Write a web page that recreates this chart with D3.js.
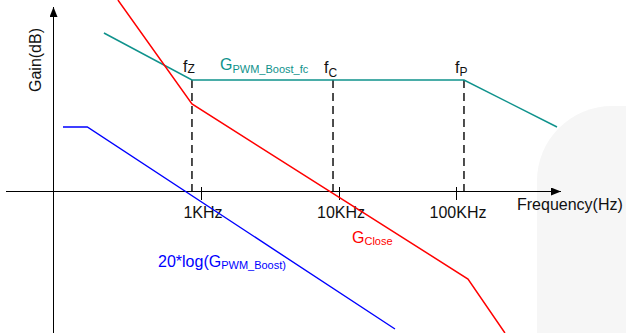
<!DOCTYPE html>
<html>
<head>
<meta charset="utf-8">
<script src="https://cdn.jsdelivr.net/npm/d3@7"></script>
<style>
  body { margin: 0; background: #fff; }
  svg { display: block; font-family: "Liberation Sans", Arial, sans-serif; }
</style>
</head>
<body>
<div id="chart"></div>
<script>
var width = 626, height = 333;

// corner frequencies (Hz) and tick labels
var fz = 860, fc = 9050, fp = 117000;
var tickFreqs = [1e3, 1e4, 1e5];
var tickLabels = ["1KHz", "10KHz", "100KHz"];

// asymptotic curves: [frequency Hz, gain dB]
var gPwmFc = [[198, 79], [860, 55.5], [117000, 55.5], [730000, 32]];
var gClose = [[250, 95.5], [860, 43.5], [126600, -44], [262000, -71]];
var gPwm = [[100, 32], [150, 32], [30100, -69]];

// schematic axis: decades are not evenly spaced in the drawing
var x = d3.scaleLog()
  .domain(tickFreqs)
  .range([201, 339, 456]);

var y = d3.scaleLinear()
  .domain([-71, 95.5])
  .range([height, 0]);

var svg = d3.select("#chart")
  .append("svg")
  .attr("width", width)
  .attr("height", height);

var defs = svg.append("defs");
defs.append("marker")
  .attr("id", "arrow")
  .attr("viewBox", "0 0 10 8")
  .attr("refX", 10)
  .attr("refY", 4)
  .attr("markerWidth", 11)
  .attr("markerHeight", 8)
  .attr("markerUnits", "userSpaceOnUse")
  .attr("orient", "auto")
  .append("path")
  .attr("d", "M0,0L10,4L0,8Z")
  .attr("fill", "#000");

// faint background shape on the right
svg.append("rect")
  .attr("x", 537)
  .attr("y", 106)
  .attr("width", 200)
  .attr("height", 300)
  .attr("rx", 75)
  .attr("fill", "#f6f6f6");

var y0 = y(0);

// axes
svg.append("line")
  .attr("x1", 6).attr("x2", 561)
  .attr("y1", y0 + 0.5).attr("y2", y0 + 0.5)
  .attr("stroke", "#000")
  .attr("marker-end", "url(#arrow)");

svg.append("line")
  .attr("x1", 53.5).attr("x2", 53.5)
  .attr("y1", height).attr("y2", 7)
  .attr("stroke", "#000")
  .attr("marker-end", "url(#arrow)");

var xAxis = d3.axisBottom(x)
  .tickValues(tickFreqs)
  .tickFormat(function(d, i) { return tickLabels[i]; })
  .tickSize(9);

var gx = svg.append("g")
  .attr("transform", "translate(0," + y0 + ")")
  .call(xAxis);
gx.select(".domain").remove();
gx.selectAll(".tick line").attr("y1", -4).attr("stroke", "#000");
gx.selectAll(".tick text")
  .attr("y", 27)
  .attr("dy", 0)
  .attr("x", 1.5)
  .attr("font-family", "Liberation Sans, Arial, sans-serif")
  .attr("font-size", 16)
  .attr("fill", "#111");

svg.append("text")
  .attr("x", 517)
  .attr("y", 210)
  .attr("font-size", 16)
  .attr("fill", "#111")
  .text("Frequency(Hz)");

svg.append("text")
  .attr("transform", "translate(41,60) rotate(-90)")
  .attr("text-anchor", "middle")
  .attr("font-size", 16)
  .attr("fill", "#111")
  .text("Gain(dB)");

// dashed markers at fz, fc, fp
var marks = [
  { f: fz, name: "Z", sub: 1 },
  { f: fc, name: "C", sub: 4 },
  { f: fp, name: "P", sub: 3 }
];

svg.selectAll(".fmark")
  .data(marks)
  .join("line")
  .attr("class", "fmark")
  .attr("x1", function(d) { return x(d.f); })
  .attr("x2", function(d) { return x(d.f); })
  .attr("y1", y(55.5))
  .attr("y2", y0)
  .attr("stroke", "#222")
  .attr("stroke-width", 1.6)
  .attr("stroke-dasharray", "8,5");

var fl = svg.selectAll(".flabel")
  .data(marks)
  .join("text")
  .attr("class", "flabel")
  .attr("x", function(d) { return x(d.f) - 9; })
  .attr("y", function(d, i) { return i === 0 ? 72 : 73; })
  .attr("fill", "#111")
  .attr("font-size", 16);
fl.append("tspan").text("f");
fl.append("tspan")
  .attr("font-size", 12)
  .attr("dy", function(d) { return d.sub; })
  .text(function(d) { return d.name; });

// curves
var line = d3.line()
  .x(function(d) { return x(d[0]); })
  .y(function(d) { return y(d[1]); });

svg.append("path")
  .datum(gPwm)
  .attr("d", line)
  .attr("fill", "none")
  .attr("stroke", "#0000ff")
  .attr("stroke-width", 1.4);

svg.append("path")
  .datum(gPwmFc)
  .attr("d", line)
  .attr("fill", "none")
  .attr("stroke", "#0f928c")
  .attr("stroke-width", 1.5);

svg.append("path")
  .datum(gClose)
  .attr("d", line)
  .attr("fill", "none")
  .attr("stroke", "#ff0000")
  .attr("stroke-width", 1.5);

// curve labels
function subLabel(px, py, main, sub, color, dy) {
  var t = svg.append("text")
    .attr("x", px)
    .attr("y", py)
    .attr("font-size", 16)
    .attr("fill", color);
  t.append("tspan").text(main);
  t.append("tspan").attr("font-size", 11).attr("dy", dy).text(sub);
}

subLabel(220, 70, "G", "PWM_Boost_fc", "#0f928c", 3);
subLabel(352, 243, "G", "Close", "#ff0000", 2);
subLabel(158, 267, "20*log(G", "PWM_Boost)", "#0000ff", 2);
</script>
</body>
</html>
